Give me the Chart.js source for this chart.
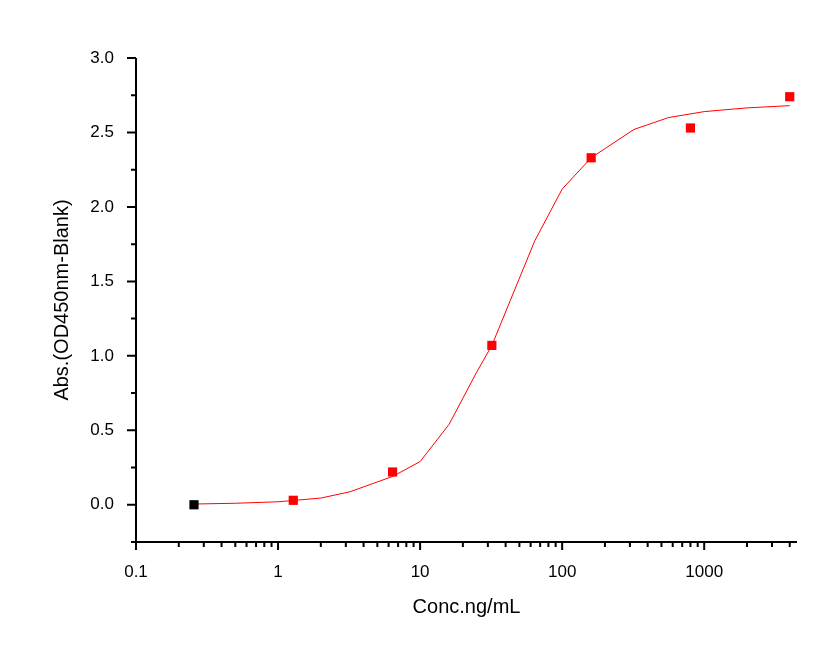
<!DOCTYPE html>
<html><head><meta charset="utf-8">
<script src="https://cdn.jsdelivr.net/npm/chart.js@4/dist/chart.umd.min.js"></script>
<style>html,body{margin:0;padding:0;background:#fff}#w{width:838px;height:666px}</style>
</head><body><div id="w"><canvas id="c"></canvas></div>
<script>
const concX = [0.256, 1.28, 6.4, 32, 160, 800, 4000];
const absY = [0.0, 0.03, 0.22, 1.07, 2.33, 2.53, 2.74];
const fitX = [0.256, 0.5, 1, 2, 3.2, 6.4, 10, 16, 25, 32, 64, 100, 160, 320, 560, 1000, 2000, 4000];
const fitY = [0.005, 0.01, 0.02, 0.045, 0.087, 0.19, 0.29, 0.54, 0.89, 1.07, 1.77, 2.12, 2.33, 2.52, 2.6, 2.64, 2.665, 2.68];
const xMajor = [0.1, 1, 10, 100, 1000];
const xLabels = ['0.1', '1', '10', '100', '1000'];
const xTitle = 'Conc.ng/mL';
const yTitle = 'Abs.(OD450nm-Blank)';

const pts = concX.map((x,i)=>({x, y: absY[i]}));
const fit = fitX.map((x,i)=>({x, y: fitY[i]}));
const F = 'Liberation Sans, Arial, sans-serif';

const tickPlugin = {
  id:'ticks',
  afterDraw(ch){
    const c = ch.ctx, xs = ch.scales.x, ys = ch.scales.y, a = ch.chartArea;
    c.save(); c.strokeStyle='#000'; c.lineWidth=2;
    c.beginPath(); c.moveTo(a.left, a.top); c.lineTo(a.left, a.bottom); c.lineTo(a.right, a.bottom); c.stroke();
    c.beginPath();
    for (let d=0.1; d<5000; d*=10) for (let m=1; m<10; m++) {
      const v = d*m; if (v > xs.max) break;
      const px = xs.getPixelForValue(v);
      c.moveTo(px, a.bottom); c.lineTo(px, a.bottom + (m===1?8:5));
    }
    for (let v=-0.25; v<=3.001; v+=0.25) {
      const py = ys.getPixelForValue(v);
      const major = Math.abs(v*2 - Math.round(v*2)) < 1e-6;
      c.moveTo(a.left, py); c.lineTo(a.left - (major?9:5), py);
    }
    c.stroke();
    c.fillStyle='#000'; c.font = '20px ' + F; c.textAlign='center'; c.textBaseline='middle';
    c.fillText(xTitle, (a.left + a.right)/2, 607);
    c.translate(62, (a.top + a.bottom)/2); c.rotate(-Math.PI/2);
    c.fillText(yTitle, 0, 0);
    c.restore();
  }
};

new Chart(document.getElementById('c'), {
  data: { datasets: [
    { type:'line', data: fit, borderColor:'#ff0000', borderWidth:1, pointRadius:0, tension:0, order:2 },
    { type:'scatter', data: pts, pointStyle:'rect', pointRadius:6.5, pointBackgroundColor: absY.map((_,i)=>i===0?'#000':'#ff0000'), pointBorderWidth:0, order:1 }
  ]},
  options: {
    responsive:true, maintainAspectRatio:false, animation:false,
    layout:{ padding:{ top:58, right:41, left:0, bottom:0 } },
    plugins:{ legend:{display:false}, tooltip:{enabled:false} },
    scales:{
      x:{ type:'logarithmic', min:0.1, max:4500,
        afterBuildTicks(s){ s.ticks = xMajor.map(v=>({value:v})); },
        afterFit(s){ s.height = 124; },
        grid:{ display:false }, border:{ display:false },
        ticks:{ autoSkip:false, maxRotation:0, padding:12, color:'#000', font:{family:F, size:17},
          callback:(v,i)=>xLabels[i] }
      },
      y:{ min:-0.25, max:3.0,
        afterBuildTicks(s){ s.ticks = [0,0.5,1,1.5,2,2.5,3].map(v=>({value:v})); },
        afterFit(s){ s.width = 136; },
        grid:{ display:false }, border:{ display:false },
        ticks:{ padding:14, color:'#000', font:{family:F, size:17}, callback:v=>v.toFixed(1) }
      }
    }
  },
  plugins:[tickPlugin]
});
</script></body></html>
